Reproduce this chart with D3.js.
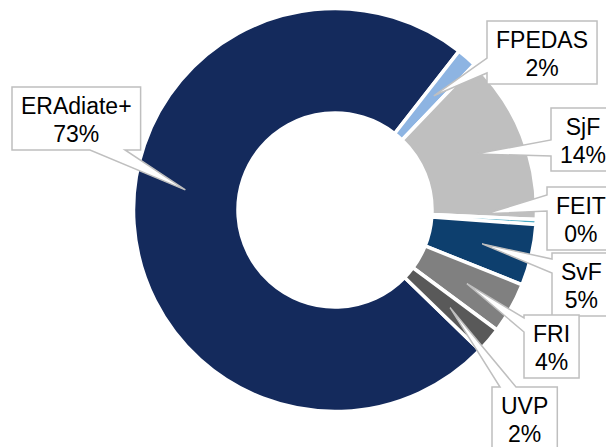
<html>
  <head>
    <meta charset="utf-8" />
    <script src="https://d3js.org/d3.v7.min.js"></script>
    <style>
      body {
        margin: 0;
        background: #fff;
      }
      text {
        font-family: "Liberation Sans", Arial, sans-serif;
        font-size: 23px;
        fill: #000;
      }
    </style>
  </head>

  <body>
    <svg id="chart" width="606" height="447"></svg>
    <script>
      // data (shares in %)
      var categories = ["ERAdiate+", "FPEDAS", "SjF", "FEIT", "SvF", "FRI", "UVP"];
      var shares = [73.3, 1.6, 13.6, 0.4, 4.9, 4.1, 2.1];
      var colors = ["#142a5c", "#8db4e2", "#bfbfbf", "#4bacc6", "#0d3f6e", "#808080", "#595959"];

      // callout boxes: left/top of box, edge the pointer leaves from, span on that edge
      var callouts = [
        { x: 12, y: 87, side: "bottom", a: 90, b: 125, nudge: 11.6 },
        { x: 487, y: 21, side: "left", a: 58, b: 73, nudge: 0 },
        { x: 551, y: 108, side: "left", a: 140, b: 156, nudge: 0 },
        { x: 547, y: 187, side: "left", a: 195, b: 211, nudge: -2 },
        { x: 552, y: 253, side: "left", a: 259, b: 273, nudge: 0 },
        { x: 524, y: 315, side: "left", a: 318, b: 332, nudge: 0 },
        { x: 492, y: 387, side: "top", a: 500, b: 516, nudge: 0 }
      ];

      var svg = d3.select("#chart"),
        cx = 335,
        cy = 210,
        outer = 201.5,
        inner = 97,
        tipR = 151,
        boxH = 63,
        pad = 9;

      var total = d3.sum(shares);
      var data = categories.map((c, i) => ({ name: c, value: shares[i], color: colors[i] }));

      var start = (134.1 * Math.PI) / 180;
      var pie = d3
        .pie()
        .sort(null)
        .value((d) => d.value)
        .startAngle(start)
        .endAngle(start + 2 * Math.PI);

      var arc = d3.arc().innerRadius(inner).outerRadius(outer);

      var arcs = pie(data);

      var g = svg.append("g").attr("transform", "translate(" + cx + "," + cy + ")");

      g.selectAll("path.slice")
        .data(arcs)
        .enter()
        .append("path")
        .attr("class", "slice")
        .attr("d", arc)
        .attr("fill", (d) => d.data.color)
        .attr("stroke", "#fff")
        .attr("stroke-width", 3.5)
        .attr("stroke-linejoin", "miter");

      function calloutPath(x0, y0, w, h, side, a, b, tx, ty) {
        var x1 = x0 + w,
          y1 = y0 + h,
          p = "M" + x0 + "," + y0;
        if (side == "top") p += "L" + a + "," + y0 + "L" + tx + "," + ty + "L" + b + "," + y0;
        p += "L" + x1 + "," + y0 + "L" + x1 + "," + y1;
        if (side == "bottom") p += "L" + b + "," + y1 + "L" + tx + "," + ty + "L" + a + "," + y1;
        p += "L" + x0 + "," + y1;
        if (side == "left") p += "L" + x0 + "," + b + "L" + tx + "," + ty + "L" + x0 + "," + a;
        return p + "Z";
      }

      var labels = svg.append("g");

      arcs.forEach(function (d, i) {
        var c = callouts[i];
        var pct = Math.round((d.data.value / total) * 100) + "%";
        var ang = (d.startAngle + d.endAngle) / 2 + (c.nudge * Math.PI) / 180;
        var tx = cx + tipR * Math.sin(ang),
          ty = cy - tipR * Math.cos(ang);

        var lg = labels.append("g");
        var path = lg.append("path");
        var t1 = lg.append("text").attr("text-anchor", "middle").text(d.data.name);
        var t2 = lg.append("text").attr("text-anchor", "middle").text(pct);
        var w = Math.max(t1.node().getComputedTextLength(), t2.node().getComputedTextLength()) + 2 * pad;
        var mid = c.y + boxH / 2;

        path
          .attr("d", calloutPath(c.x, c.y, w, boxH, c.side, c.a, c.b, tx, ty))
          .attr("fill", "#fff")
          .attr("stroke", "#bfbfbf")
          .attr("stroke-width", 1.5);
        t1.attr("x", c.x + w / 2).attr("y", mid - 5);
        t2.attr("x", c.x + w / 2).attr("y", mid + 23);
      });
    </script>
  </body>
</html>
